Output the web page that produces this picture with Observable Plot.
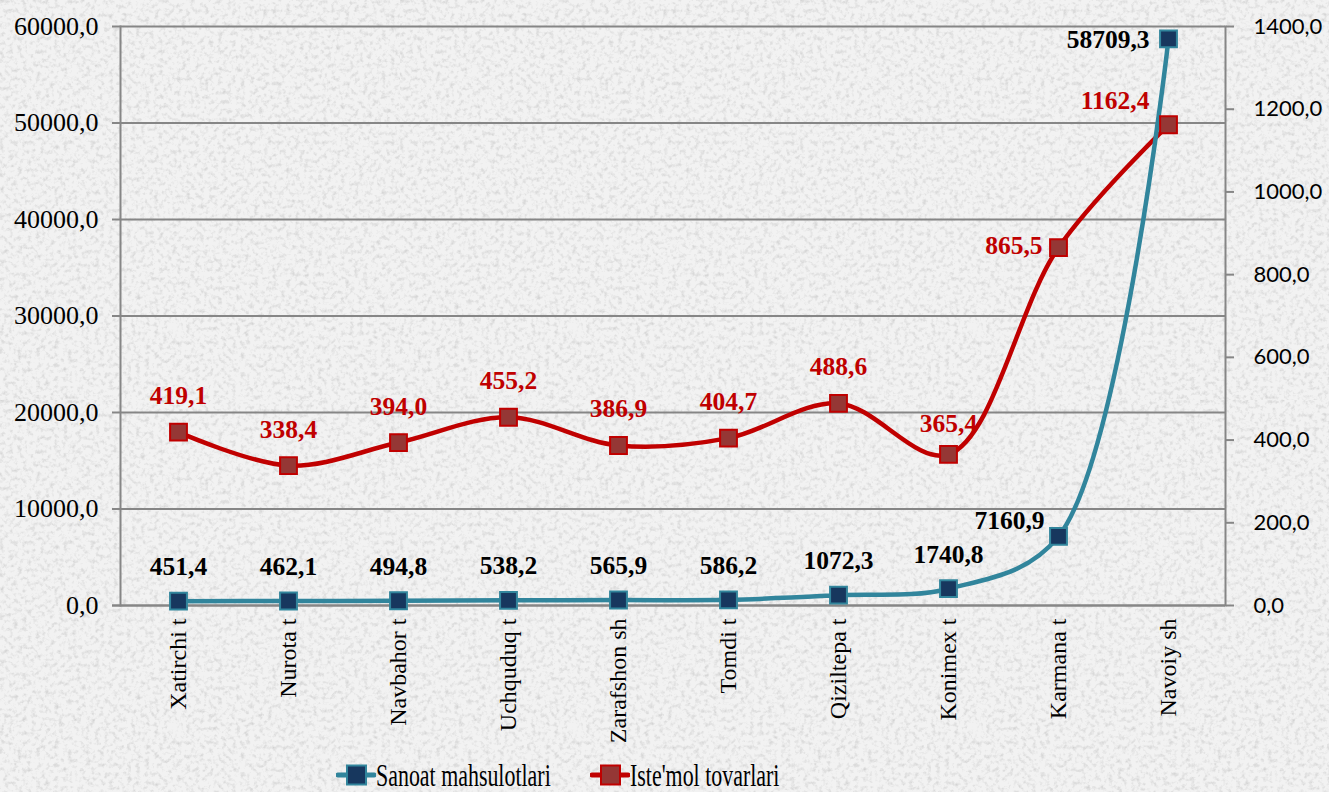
<!DOCTYPE html>
<html><head><meta charset="utf-8">
<script src="https://cdn.jsdelivr.net/npm/d3@7"></script>
<script src="https://cdn.jsdelivr.net/npm/@observablehq/plot@0.6"></script>
<style>
html,body{margin:0;padding:0;}
body{width:1329px;height:792px;overflow:hidden;background-color:#f2f2f2;position:relative;
background-image:url("data:image/svg+xml,%3Csvg xmlns='http://www.w3.org/2000/svg' width='400' height='400'%3E%3Cfilter id='n'%3E%3CfeTurbulence type='fractalNoise' baseFrequency='0.22' numOctaves='3' seed='5'/%3E%3CfeColorMatrix values='0 0 0 0 0.6 0 0 0 0 0.6 0 0 0 0 0.6 1.8 0 0 0 -0.85'/%3E%3C/filter%3E%3Crect width='100%25' height='100%25' filter='url(%23n)'/%3E%3C/svg%3E");}
#chart svg{display:block;background:transparent;}
#legend{position:absolute;left:0;top:755px;width:1329px;height:40px;font-family:'Liberation Serif','Times New Roman',serif;font-size:32px;color:#000;}
.item{position:absolute;top:0;height:40px;display:flex;align-items:center;white-space:nowrap;}
.item svg{flex:none;}
.item span{display:inline-block;transform:scaleX(0.685);transform-origin:left center;}
</style></head>
<body>
<div id="chart"></div>
<div id="legend"></div>
<script>
const categories = ["Xatirchi t","Nurota t","Navbahor t","Uchquduq t","Zarafshon sh","Tomdi t","Qiziltepa t","Konimex t","Karmana t","Navoiy sh"];
const sanoat = [451.4,462.1,494.8,538.2,565.9,586.2,1072.3,1740.8,7160.9,58709.3];
const istemol = [419.1,338.4,394.0,455.2,386.9,404.7,488.6,365.4,865.5,1162.4];
const seriesNames = ["Sanoat mahsulotlari","Iste'mol tovarlari"];
const leftTicks = [0,10000,20000,30000,40000,50000,60000];
const rightTicks = [0,200,400,600,800,1000,1200,1400];

const k = 60000/1400;
const fmt = v => v.toFixed(1).replace(".", ",");
const blueLine = "#31859c", blueFill = "#17375e";
const redLine = "#c00000", redFill = "#953735";
const grid = "#868686";

const A = categories.map((c,i)=>({c, v:sanoat[i], y:sanoat[i], i}));
const B = categories.map((c,i)=>({c, v:istemol[i], y:istemol[i]*k, i}));

const serif = "'Liberation Serif', 'Times New Roman', serif";
const lab = {fontSize:25.5, fontWeight:"bold", fontFamily:serif, lineAnchor:"bottom"};

const plot = Plot.plot({
  width:1329, height:752,
  marginTop:26, marginBottom:147, marginLeft:120, marginRight:104,
  style:{background:"transparent", fontFamily:serif},
  x:{type:"point", domain:categories, padding:0.5},
  y:{domain:[0,60000]},
  marks:[
    Plot.gridY(leftTicks,{stroke:grid, strokeOpacity:1, strokeWidth:2}),
    Plot.frame({anchor:"left", stroke:grid, strokeWidth:2}),
    Plot.frame({anchor:"right", stroke:grid, strokeWidth:2}),
    Plot.axisY(leftTicks,{anchor:"left", tickSize:8, tickPadding:14, stroke:grid, strokeWidth:2,
      tickFormat:fmt, fontSize:26, fontFamily:serif, fill:"#000", label:null}),
    Plot.axisY(rightTicks.map(v=>v*k),{anchor:"right", tickSize:8, tickPadding:20, stroke:grid, strokeWidth:2,
      tickFormat:d=>fmt(d/k), fontSize:22, fontFamily:"Lato, 'Open Sans', sans-serif", fill:"#000", label:null}),
    Plot.ruleY([0],{stroke:grid, strokeWidth:2, insetLeft:-8}),
    Plot.axisX({tickSize:0, tickRotate:-90, tickPadding:13, fontSize:24, fontFamily:serif, fill:"#000", label:null}),
    Plot.line(B,{x:"c", y:"y", stroke:redLine, strokeWidth:4.5, curve:"catmull-rom"}),
    Plot.line(A,{x:"c", y:"y", stroke:blueLine, strokeWidth:4.5, curve:"catmull-rom"}),
    Plot.dot(B,{x:"c", y:"y", symbol:"square", r:9.5, fill:redFill, stroke:redLine, strokeWidth:2}),
    Plot.dot(A,{x:"c", y:"y", symbol:"square", r:9.5, fill:blueFill, stroke:blueLine, strokeWidth:2}),
    // blue labels
    Plot.text(A.filter(d=>d.i<8),{x:"c", y:"y", text:d=>fmt(d.v), dy:-26, fill:"#000", ...lab}),
    Plot.text(A.filter(d=>d.i===8),{x:"c", y:"y", text:d=>fmt(d.v), textAnchor:"end", dx:-14, dy:-7, fill:"#000", ...lab}),
    Plot.text(A.filter(d=>d.i===9),{x:"c", y:"y", text:d=>fmt(d.v), textAnchor:"end", dx:-19, dy:9, fill:"#000", ...lab}),
    // red labels
    Plot.text(B.filter(d=>d.i<7),{x:"c", y:"y", text:d=>fmt(d.v), dy:-28, fill:redLine, ...lab}),
    Plot.text(B.filter(d=>d.i===7),{x:"c", y:"y", text:d=>fmt(d.v), dy:-22, fill:redLine, ...lab}),
    Plot.text(B.filter(d=>d.i===8),{x:"c", y:"y", text:d=>fmt(d.v), textAnchor:"end", dx:-16, dy:6, fill:redLine, ...lab}),
    Plot.text(B.filter(d=>d.i===9),{x:"c", y:"y", text:d=>fmt(d.v), textAnchor:"end", dx:-19, dy:-16, fill:redLine, ...lab})
  ]
});
document.getElementById("chart").appendChild(plot);

const leg = document.getElementById("legend");
[[seriesNames[0],blueLine,blueFill,336],[seriesNames[1],redLine,redFill,590]].forEach(([name,s,f,left])=>{
  const it = document.createElement("div"); it.className="item"; it.style.left = left+"px";
  it.innerHTML = `<svg width="40" height="24"><line x1="2" y1="12" x2="38" y2="12" stroke="${s}" stroke-width="5" stroke-linecap="round"/><rect x="11" y="2.5" width="19" height="19" fill="${f}" stroke="${s}" stroke-width="2"/></svg><span>${name}</span>`;
  leg.appendChild(it);
});
</script>
</body></html>
